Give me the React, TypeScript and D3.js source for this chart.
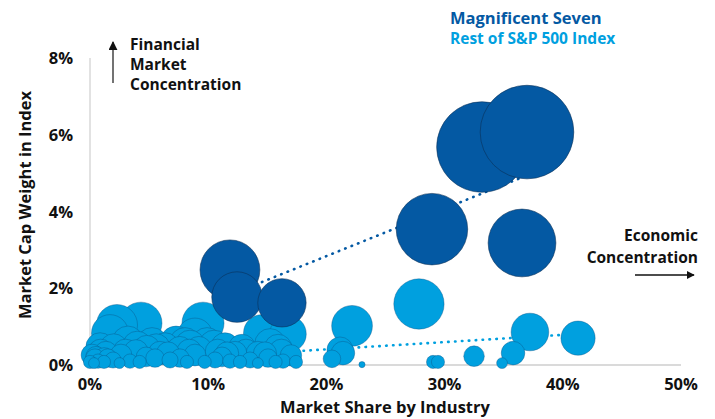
import React from "react";
import * as d3 from "d3";

// Magnificent Seven: x = market share by industry (%), y = market cap weight in index (%)
const magX = [11.84, 12.44, 16.24, 28.93, 36.55, 33.16, 36.97];
const magY = [2.48, 1.77, 1.62, 3.54, 3.18, 5.68, 6.07];

// Rest of S&P 500 industries
const restX = [
  27.83, 22.17, 37.22, 41.29, 35.79, 34.86, 32.49, 29.02, 29.44, 23.01,
  21.15, 21.4, 20.47, 14.55, 16.75, 12.86, 15.91, 14.21, 12.27, 11.17,
  15.06, 13.54, 16.33, 9.56, 9.9, 8.46, 8.88, 10.58, 8.04, 7.28,
  6.35, 5.5, 4.74, 3.89, 2.62, 1.35, 0.42, 2.28, 1.69, 4.31,
  3.21, 5.25, 8.88, 0.85, 0.17, 0.68, 1.18, 1.95, 3.38, 6.77,
  7.61, 11.84, 12.69, 17.43, 5.92, 0.0, 0.34, 11.42, 10.49, 15.23,
  2.5, 4.2, 8.2, 9.7, 14.2, 15.7, 1.5,
  0.9, 2.0, 3.0, 4.0, 4.8, 5.6, 6.6, 7.6, 8.4, 9.2,
  10.8, 11.6, 13.2, 14.8, 16.2, 17.0, 0.5, 1.2,
];
const restY = [
  1.59, 1.02, 0.86, 0.7, 0.31, 0.05, 0.23, 0.08, 0.08, 0.01,
  0.39, 0.31, 0.16, 0.83, 0.81, 0.44, 0.44, 0.31, 0.31, 0.21,
  0.18, 0.13, 0.1, 1.09, 0.57, 0.52, 0.26, 0.13, 0.57, 0.6,
  0.47, 0.18, 0.21, 0.34, 0.26, 0.31, 0.18, 1.04, 0.83, 1.09,
  0.6, 0.57, 0.76, 0.47, 0.26, 0.1, 0.08, 0.13, 0.1, 0.13,
  0.18, 0.1, 0.08, 0.08, 0.31, 0.08, 0.05, 0.47, 0.52, 0.55,
  0.05, 0.08, 0.08, 0.08, 0.05, 0.08, 0.18,
  0.35, 0.45, 0.35, 0.5, 0.42, 0.45, 0.3, 0.4, 0.35, 0.4,
  0.35, 0.3, 0.35, 0.3, 0.35, 0.25, 0.22, 0.2,
];

// Trend lines (endpoints)
const magTrendX = [11.84, 36.97];
const magTrendY = [1.826, 4.94];
const restTrendX = [0, 41.3];
const restTrendY = [0.03, 0.81];

const xTicks = [0, 10, 20, 30, 40, 50];
const yTicks = [0, 2, 4, 6, 8];

const DARK = "#0459A3";
const LIGHT = "#00A0DF";
const FONT = "'Open Sans', 'Noto Sans', sans-serif";

export default function App() {
  const W = 715;
  const H = 419;
  const x = d3.scaleLinear().domain([0, 50]).range([90, 681]);
  const y = d3.scaleLinear().domain([0, 8]).range([365, 58]);
  const r = d3.scaleSqrt().domain([0, 8]).range([0, 19 * Math.sqrt(8)]);

  const rest = restX
    .map((v, i) => ({ x: v, y: restY[i] }))
    .sort((a, b) => b.y - a.y);
  const mag = magX.map((v, i) => ({ x: v, y: magY[i] }));

  const line = d3
    .line<[number, number]>()
    .x((d) => x(d[0]))
    .y((d) => y(d[1]));

  const magTrend = line(magTrendX.map((v, i) => [v, magTrendY[i]] as [number, number]));
  const restTrend = line(restTrendX.map((v, i) => [v, restTrendY[i]] as [number, number]));

  return (
    <svg
      width={W}
      height={H}
      style={{ position: "absolute", left: 0, top: 0, background: "#fff" }}
      fontFamily={FONT}
    >
      <defs>
        <marker id="ah" viewBox="0 0 10 10" refX="9" refY="5" markerWidth="6" markerHeight="6" orient="auto">
          <path d="M0,0 L10,5 L0,10 z" fill="#111" />
        </marker>
      </defs>

      {/* axes */}
      <line x1={x(0)} x2={x(0)} y1={y(8)} y2={y(0)} stroke="#cfcfcf" strokeWidth={1.2} />
      <line x1={x(0)} x2={x(50)} y1={y(0)} y2={y(0)} stroke="#b5b5b5" strokeWidth={1.2} />

      {/* trend line (rest) */}
      <path d={restTrend || ""} fill="none" stroke={LIGHT} strokeWidth={2.6} strokeLinecap="round" strokeDasharray="0.5 6.4" />

      {/* rest bubbles */}
      {rest.map((d, i) => (
        <circle
          key={"r" + i}
          cx={x(d.x)}
          cy={y(d.y)}
          r={r(d.y) + 1.2}
          fill={LIGHT}
          stroke="#0b4f80"
          strokeOpacity={0.55}
          strokeWidth={0.7}
        />
      ))}

      {/* trend line (mag7) */}
      <path d={magTrend || ""} fill="none" stroke={DARK} strokeWidth={2.6} strokeLinecap="round" strokeDasharray="0.5 6.4" />

      {/* mag7 bubbles */}
      {mag.map((d, i) => (
        <circle
          key={"m" + i}
          cx={x(d.x)}
          cy={y(d.y)}
          r={r(d.y)}
          fill={DARK}
          stroke="#0a2f55"
          strokeOpacity={0.7}
          strokeWidth={0.8}
        />
      ))}

      {/* tick labels */}
      {xTicks.map((t) => (
        <text key={"xt" + t} x={x(t)} y={390} textAnchor="middle" fontSize={16.5} fontWeight={700} fill="#111">
          {t}%
        </text>
      ))}
      {yTicks.map((t) => (
        <text key={"yt" + t} x={73} y={y(t) + 6} textAnchor="end" fontSize={16.5} fontWeight={700} fill="#111">
          {t}%
        </text>
      ))}

      {/* axis titles */}
      <text x={385} y={413} textAnchor="middle" fontSize={16.5} fontWeight={700} fill="#111">
        Market Share by Industry
      </text>
      <text
        transform={`translate(31,205) rotate(-90)`}
        textAnchor="middle"
        fontSize={16.5}
        fontWeight={700}
        fill="#111"
      >
        Market Cap Weight in Index
      </text>

      {/* annotations */}
      <line x1={113} x2={113} y1={83} y2={42} stroke="#444" strokeWidth={1.5} markerEnd="url(#ah)" />
      <text x={130} y={50} fontSize={15.5} fontWeight={700} fill="#111">Financial</text>
      <text x={130} y={70} fontSize={15.5} fontWeight={700} fill="#111">Market</text>
      <text x={130} y={90} fontSize={15.5} fontWeight={700} fill="#111">Concentration</text>

      <text x={698} y={241} textAnchor="end" fontSize={15.5} fontWeight={700} fill="#111">Economic</text>
      <text x={698} y={263} textAnchor="end" fontSize={15.5} fontWeight={700} fill="#111">Concentration</text>
      <line x1={635} x2={694} y1={275} y2={275} stroke="#111" strokeWidth={1.3} markerEnd="url(#ah)" />

      {/* legend */}
      <text x={450} y={24} fontSize={16.5} fontWeight={700} fill={DARK}>Magnificent Seven</text>
      <text x={450} y={44} fontSize={15.5} fontWeight={700} fill={LIGHT}>Rest of S&amp;P 500 Index</text>
    </svg>
  );
}
